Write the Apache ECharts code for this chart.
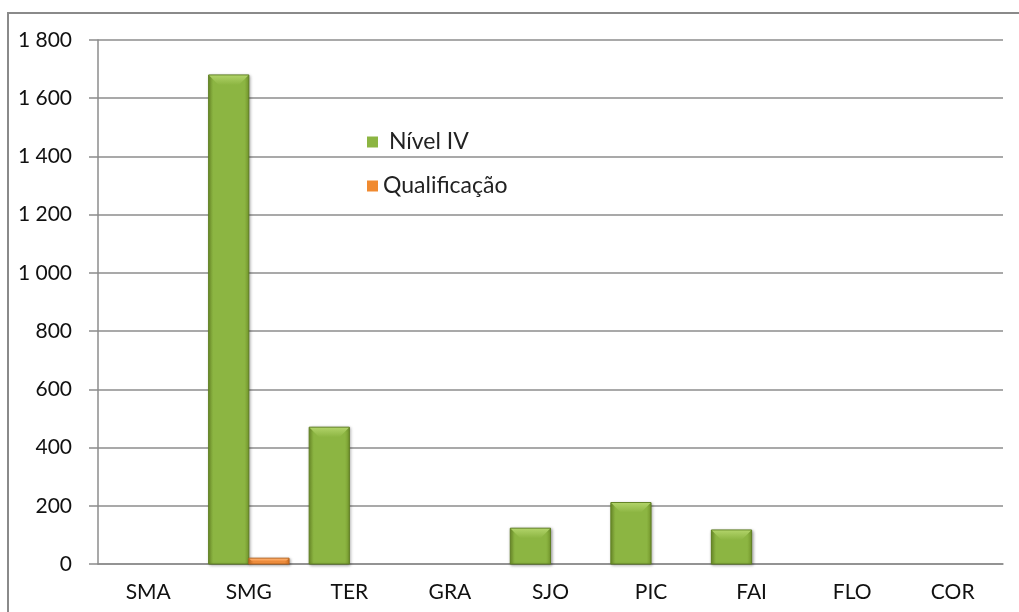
<!DOCTYPE html>
<html>
<head>
<meta charset="utf-8">
<script src="https://cdn.jsdelivr.net/npm/echarts@6/dist/echarts.min.js"></script>
<style>
  html, body { margin: 0; padding: 0; background: #fff; }
  #main { width: 1019px; height: 612px; }
</style>
</head>
<body>
<div id="main"></div>
<script>
var categories = ['SMA', 'SMG', 'TER', 'GRA', 'SJO', 'PIC', 'FAI', 'FLO', 'COR'];
var nivelIV = [0, 1680, 470, 0, 123, 211, 117, 0, 0];
var qualificacao = [0, 20, 0, 0, 0, 0, 0, 0, 0];

var chartDom = document.getElementById('main');
var myChart = echarts.init(chartDom);
var option;

var FONT = 'Lato';

function fmtNum(v) {
  if (v >= 1000) {
    return Math.floor(v / 1000) + ' ' + String(v % 1000).padStart(3, '0');
  }
  return String(v);
}

// bevelled bar, like the office chart style
function makeBarRenderer(slot, colors) {
  return function (params, api) {
    var idx = api.value(0);
    var val = api.value(1);
    if (!val) {
      return null;
    }
    var band = api.size([1, 0])[0];
    var w = band * 0.4;
    var center = api.coord([idx, 0]);
    var x0 = center[0] - w + slot * w;
    var base = center[1];
    var top = api.coord([idx, val])[1];
    var h = base - top;
    var b = Math.min(10, h / 2, w / 2);
    return {
      type: 'group',
      children: [
        {
          type: 'rect',
          shape: { x: x0, y: top, width: w, height: h },
          style: {
            fill: new echarts.graphic.LinearGradient(0, 0, 1, 0, [
              { offset: 0, color: colors.side },
              { offset: 0.12, color: colors.main },
              { offset: 0.88, color: colors.main },
              { offset: 1, color: colors.side }
            ]),
            stroke: colors.edge,
            lineWidth: 1,
            shadowBlur: 3,
            shadowOffsetX: 1,
            shadowOffsetY: 1,
            shadowColor: 'rgba(0,0,0,0.35)'
          }
        },
        {
          type: 'polygon',
          shape: {
            points: [[x0 + 0.5, top + 0.5], [x0 + w - 0.5, top + 0.5], [x0 + w - b, top + b], [x0 + b, top + b]]
          },
          style: {
            fill: new echarts.graphic.LinearGradient(0, 0, 0, 1, [
              { offset: 0, color: colors.light },
              { offset: 1, color: colors.main }
            ])
          }
        }
      ]
    };
  };
}

var green = { main: '#8cb542', light: '#b0d268', side: '#76992d', edge: '#5f7f22' };
var orange = { main: '#f5913f', light: '#fbb274', side: '#db7624', edge: '#b8651f' };

option = {
  animation: false,
  backgroundColor: '#ffffff',
  graphic: [
    {
      type: 'rect',
      shape: { x: 8, y: 13, width: 1040, height: 700 },
      style: { fill: null, stroke: '#8a8a8a', lineWidth: 2 },
      silent: true
    }
  ],
  grid: {
    left: 98,
    right: 16,
    top: 40,
    bottom: 48
  },
  legend: {
    orient: 'vertical',
    left: 362,
    top: 125,
    itemWidth: 11,
    itemHeight: 11,
    itemGap: 20,
    icon: 'rect',
    textStyle: { fontFamily: FONT, fontSize: 23, lineHeight: 24, color: '#222' },
    formatter: function (name) {
      return name === 'Nível IV' ? ' ' + name : name;
    },
    data: ['Nível IV', 'Qualificação']
  },
  xAxis: {
    type: 'category',
    data: categories,
    boundaryGap: true,
    axisLine: { lineStyle: { color: '#8c8c8c', width: 1.5 } },
    axisTick: { length: 8, lineStyle: { color: '#8c8c8c', width: 1.5 } },
    axisLabel: { fontFamily: FONT, fontSize: 21, color: '#111', margin: 18 }
  },
  yAxis: {
    type: 'value',
    min: 0,
    max: 1800,
    interval: 200,
    axisLine: { show: true, lineStyle: { color: '#8c8c8c', width: 1.5 } },
    axisTick: { show: true, length: 9, lineStyle: { color: '#8c8c8c', width: 1.5 } },
    splitLine: { lineStyle: { color: '#8c8c8c', width: 1.5 } },
    axisLabel: {
      fontFamily: FONT,
      fontSize: 21,
      color: '#111',
      margin: 26,
      formatter: fmtNum
    }
  },
  series: [
    {
      name: 'Nível IV',
      type: 'custom',
      itemStyle: { color: '#8cb542' },
      renderItem: makeBarRenderer(0, green),
      encode: { x: 0, y: 1 },
      data: nivelIV.map(function (v, i) { return [i, v]; }),
      z: 3
    },
    {
      name: 'Qualificação',
      type: 'custom',
      itemStyle: { color: '#f08a30' },
      renderItem: makeBarRenderer(1, orange),
      encode: { x: 0, y: 1 },
      data: qualificacao.map(function (v, i) { return [i, v]; }),
      z: 3
    }
  ]
};

option && myChart.setOption(option);
</script>
</body>
</html>
